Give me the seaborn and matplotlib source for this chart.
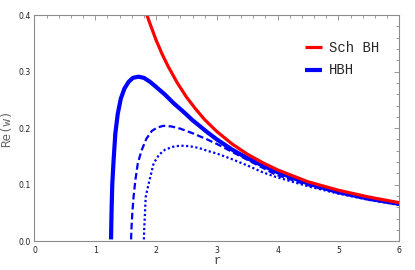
"""Re(w) vs r for Schwarzschild and hairy black holes."""

import matplotlib

matplotlib.use("Agg")
import matplotlib.pyplot as plt
import seaborn as sns
from matplotlib.ticker import FormatStrFormatter, MultipleLocator

# values
r_sch = [1.85, 1.9, 2.0, 2.1, 2.2, 2.35, 2.5, 2.65, 2.8, 3.0, 3.25, 3.5,
         3.75, 4.0, 4.5, 5.0, 5.5, 6.0]
re_sch = [0.400, 0.385, 0.356, 0.331, 0.309, 0.280, 0.255, 0.234, 0.215,
          0.194, 0.172, 0.154, 0.139, 0.126, 0.105, 0.090, 0.078, 0.068]

r_hbh = [1.26, 1.265, 1.27, 1.28, 1.30, 1.33, 1.37, 1.42, 1.48, 1.55, 1.62,
         1.71, 1.80, 1.90, 2.00, 2.15, 2.29, 2.45, 2.60, 2.84, 3.0, 3.25,
         3.5, 3.75, 4.0, 4.5, 5.0, 5.5, 6.0]
re_hbh = [0.003, 0.035, 0.060, 0.100, 0.140, 0.190, 0.225, 0.252, 0.270,
          0.282, 0.289, 0.291, 0.289, 0.282, 0.273, 0.259, 0.244, 0.229,
          0.214, 0.193, 0.180, 0.162, 0.147, 0.134, 0.122, 0.102, 0.087,
          0.075, 0.066]

r_dash = [1.59, 1.595, 1.61, 1.63, 1.66, 1.70, 1.76, 1.84, 1.93, 2.02, 2.12,
          2.25, 2.40, 2.60, 2.84, 3.0, 3.25, 3.5, 3.75, 3.96, 4.5, 5.0,
          5.5, 6.0]
re_dash = [0.003, 0.020, 0.050, 0.078, 0.108, 0.1375, 0.160, 0.181, 0.195,
           0.201, 0.204, 0.203, 0.199, 0.191, 0.180, 0.172, 0.158, 0.144,
           0.130, 0.118, 0.099, 0.085, 0.074, 0.065]

r_dot = [1.80, 1.805, 1.82, 1.83, 1.875, 1.96, 2.05, 2.15, 2.28, 2.40, 2.55,
         2.70, 2.84, 3.0, 3.25, 3.5, 3.75, 3.96, 4.5, 5.0, 5.5, 6.0]
re_dot = [0.003, 0.020, 0.055, 0.078, 0.100, 0.1375, 0.153, 0.162, 0.167,
          0.169, 0.168, 0.165, 0.160, 0.155, 0.145, 0.134, 0.122, 0.114,
          0.097, 0.084, 0.073, 0.064]

sns.set_style("white")

fig = plt.figure(figsize=(4.15, 2.70), dpi=100)
ax = fig.add_axes([0.083, 0.107, 0.879, 0.837])

blue = "#0000FF"
red = "#FF0000"
sns.lineplot(x=r_hbh, y=re_hbh, ax=ax, color=blue, lw=3.0, label="HBH",
             solid_capstyle="butt")
sns.lineplot(x=r_dash, y=re_dash, ax=ax, color=blue, lw=1.6)
ax.lines[-1].set_dashes([3, 1.5])
sns.lineplot(x=r_dot, y=re_dot, ax=ax, color=blue, lw=1.6)
ax.lines[-1].set_dashes([1, 1.1])
sns.lineplot(x=r_sch, y=re_sch, ax=ax, color=red, lw=2.3, label="Sch BH",
             solid_capstyle="butt")

ax.set_xlim(0, 6)
ax.set_ylim(0, 0.4)
ax.xaxis.set_major_locator(MultipleLocator(1))
ax.xaxis.set_minor_locator(MultipleLocator(0.2))
ax.yaxis.set_major_locator(MultipleLocator(0.1))
ax.yaxis.set_minor_locator(MultipleLocator(0.02))
ax.xaxis.set_major_formatter(FormatStrFormatter("%d"))
ax.yaxis.set_major_formatter(FormatStrFormatter("%.1f"))

frame_col = "#8c8c8c"
for spine in ax.spines.values():
    spine.set_color(frame_col)
    spine.set_linewidth(0.8)
ax.tick_params(which="both", direction="in", top=True, right=True,
               color=frame_col, width=0.6, labelsize=5.6, labelcolor="#222222")
ax.tick_params(which="major", length=3.6)
ax.tick_params(which="minor", length=2.0)
ax.tick_params(axis="x", pad=3.5)
ax.tick_params(axis="y", pad=2.5)

ax.set_xlabel("r", family="Liberation Mono", fontsize=9, color="#444444",
              labelpad=0)
ax.set_ylabel("Re(w)", family="DejaVu Sans Mono", fontsize=9, color="#666666",
              labelpad=4)

handles, labels = ax.get_legend_handles_labels()
order = [labels.index("Sch BH"), labels.index("HBH")]
ax.legend([handles[i] for i in order], [labels[i] for i in order],
          loc="upper left", bbox_to_anchor=(0.742, 0.885), borderaxespad=0,
          borderpad=0, frameon=False, handlelength=1.25, handletextpad=0.45,
          labelspacing=0.6, prop={"family": "Liberation Mono", "size": 10})

fig.savefig("out.png", dpi=100)
plt.close(fig)
